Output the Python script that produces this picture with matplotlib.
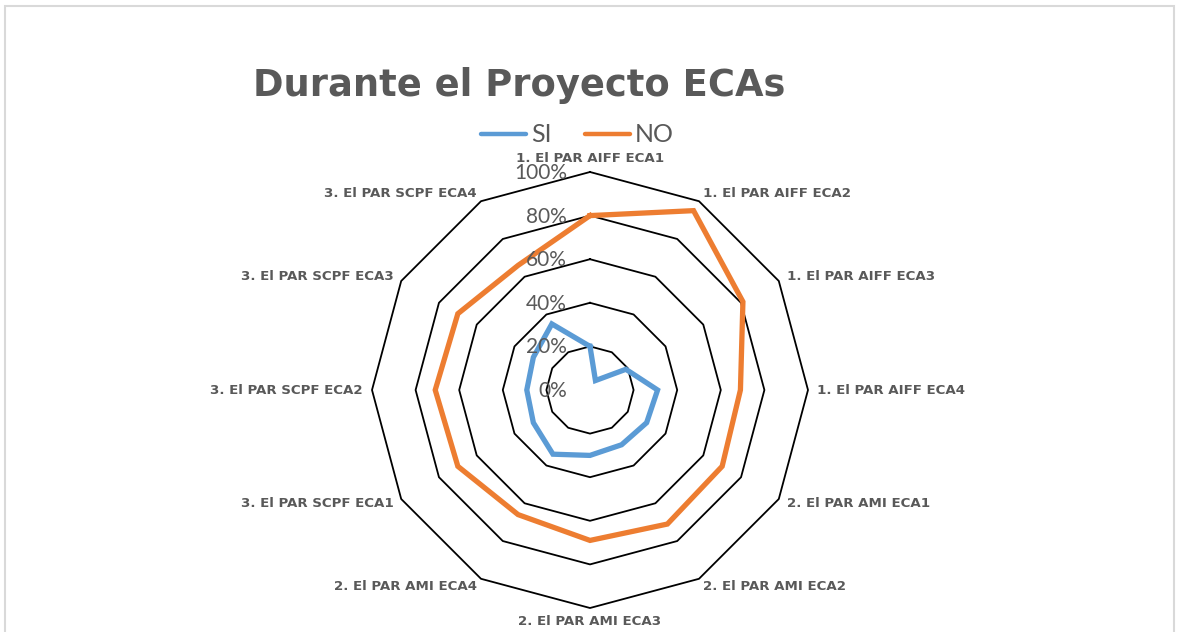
import numpy as np
import matplotlib
matplotlib.use("Agg")
import matplotlib.pyplot as plt
from matplotlib import transforms
from matplotlib.lines import Line2D
from matplotlib.patches import Rectangle

# ---- data ----
categories = [
    "1. El PAR AIFF ECA1", "1. El PAR AIFF ECA2", "1. El PAR AIFF ECA3", "1. El PAR AIFF ECA4",
    "2. El PAR AMI ECA1", "2. El PAR AMI ECA2", "2. El PAR AMI ECA3", "2. El PAR AMI ECA4",
    "3. El PAR SCPF ECA1", "3. El PAR SCPF ECA2", "3. El PAR SCPF ECA3", "3. El PAR SCPF ECA4",
]
si_values = [20, 5, 19, 31, 30, 29, 30, 34, 30, 29, 30, 35]
no_values = [80, 95, 81, 69, 70, 71, 69, 66, 70, 71, 70, 66]
ring_levels = [20, 40, 60, 80, 100]
tick_labels = ["0%", "20%", "40%", "60%", "80%", "100%"]
tick_values = [0, 20, 40, 60, 80, 100]
title = "Durante el Proyecto ECAs"
series_names = ["SI", "NO"]
colors = ["#5B9BD5", "#ED7D31"]

W, H = 1179, 632
fig = plt.figure(figsize=(W / 100, H / 100), dpi=100)

cx, cy, R = 590, 390, 218
ax = fig.add_axes([(cx - R) / W, 1 - (cy + R) / H, 2 * R / W, 2 * R / H], projection="polar")
ax.set_theta_zero_location("N")
ax.set_theta_direction(-1)
ax.set_ylim(0, 100)
ax.grid(False)
ax.spines["polar"].set_visible(False)
ax.set_xticks([])
ax.set_yticks([])
ax.patch.set_alpha(0)

n = len(categories)
angles = np.arange(n) * 2 * np.pi / n
closed = np.concatenate([angles, angles[:1]])

for lvl in ring_levels:
    ax.plot(closed, [lvl] * (n + 1), color="black", lw=1.3, zorder=1, clip_on=False)

for vals, col in zip([si_values, no_values], colors):
    v = list(vals) + [vals[0]]
    ax.plot(closed, v, color=col, lw=3.8, zorder=3, solid_joinstyle="miter", clip_on=False)

# tick labels
for tv, tl in zip(tick_values, tick_labels):
    tr = transforms.offset_copy(ax.transData, fig=fig, x=-23, y=-1, units="dots")
    ax.text(0, tv, tl, transform=tr, ha="right", va="center", fontsize=15,
            family="Lato", color="#595959", zorder=5)

# category labels
for a, lab in zip(angles, categories):
    s, c = np.sin(a), np.cos(a)
    if abs(s) < 0.01:
        d = 14
        ha = "center"
    else:
        d = 9
        ha = "left" if s > 0 else "right"
    tr = transforms.offset_copy(ax.transData, fig=fig, x=d * s, y=d * c, units="dots")
    ax.text(a, 100, lab, transform=tr, ha=ha, va="center", fontsize=9.6,
            fontweight="bold", color="#595959", family="DejaVu Sans")

# title
fig.text(519 / W, 1 - 86 / H, title, ha="center", va="center", fontsize=26.6,
         fontweight="bold", color="#595959", family="DejaVu Sans")

# legend
ly = 1 - 134 / H
for (x0, x1, tx), name, col in zip([(481, 526, 531), (585, 630, 635)], series_names, colors):
    fig.add_artist(Line2D([x0 / W, x1 / W], [ly, ly], transform=fig.transFigure,
                          color=col, lw=3.2, solid_capstyle="round"))
    fig.text(tx / W, ly, name, ha="left", va="center", fontsize=18, family="Lato",
             color="#595959")

# chart border
fig.add_artist(Rectangle((5 / W, -0.05), (1174 - 5) / W, 1.05 - 6 / H + 0.0,
                         transform=fig.transFigure, fill=False, edgecolor="#d9d9d9", lw=1.5))

fig.savefig("out.png", dpi=100)
